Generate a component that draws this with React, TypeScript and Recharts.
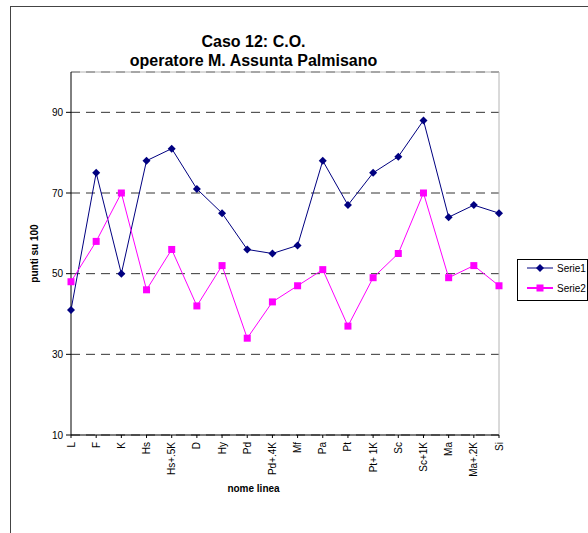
import {
  LineChart,
  Line,
  XAxis,
  YAxis,
  CartesianGrid,
  Legend,
  ReferenceLine,
  Label,
} from "recharts";

const categories = [
  "L", "F", "K", "Hs", "Hs+.5K", "D", "Hy", "Pd", "Pd+.4K",
  "Mf", "Pa", "Pt", "Pt+ 1K", "Sc", "Sc+1K", "Ma", "Ma+.2K", "Si",
];
const serie1 = [41, 75, 50, 78, 81, 71, 65, 56, 55, 57, 78, 67, 75, 79, 88, 64, 67, 65];
const serie2 = [48, 58, 70, 46, 56, 42, 52, 34, 43, 47, 51, 37, 49, 55, 70, 49, 52, 47];
const yTicks = [10, 30, 50, 70, 90];

const data = categories.map((name, i) => ({
  name,
  Serie1: serie1[i],
  Serie2: serie2[i],
}));

const NAVY = "#000080";
const MAGENTA = "#ff00ff";
const font = "'Liberation Sans', Arial, sans-serif";

const Diamond = (props: any) => {
  const { cx, cy, index } = props;
  if (cx == null || cy == null) return null;
  return (
    <polygon
      key={`d-${index}`}
      points={`${cx},${cy - 4} ${cx + 4},${cy} ${cx},${cy + 4} ${cx - 4},${cy}`}
      fill={NAVY}
    />
  );
};

const Square = (props: any) => {
  const { cx, cy, index } = props;
  if (cx == null || cy == null) return null;
  return <rect key={`s-${index}`} x={cx - 3.5} y={cy - 3.5} width={7} height={7} fill={MAGENTA} />;
};

const XTick = ({ x, y, payload }: any) => (
  <text
    x={x}
    y={y}
    dy={3.5}
    transform={`rotate(-90, ${x}, ${y})`}
    textAnchor="end"
    fontSize={10}
    fontFamily={font}
    fill="#000"
  >
    {payload.value}
  </text>
);

const LegendBox = ({ payload }: any) => (
  <div
    style={{
      position: "relative",
      width: 71,
      height: 42,
      boxSizing: "border-box",
      border: "1px solid #000",
      background: "#fff",
      fontFamily: font,
      fontSize: 10,
      color: "#000",
    }}
  >
    {(payload || []).map((entry: any, i: number) => (
      <div
        key={entry.value}
        style={{ position: "absolute", left: 9, top: 2 + i * 20, height: 12, display: "flex", alignItems: "center" }}
      >
        <svg width={28} height={12}>
          <line x1={0} y1={6} x2={26} y2={6} stroke={entry.color} strokeWidth={i === 1 ? 2 : 1} />
          {i === 0 ? (
            <polygon points="13,2 17,6 13,10 9,6" fill={entry.color} />
          ) : (
            <rect x={9.5} y={2.5} width={7} height={7} fill={entry.color} />
          )}
        </svg>
        <span style={{ marginLeft: 2 }}>{entry.value}</span>
      </div>
    ))}
  </div>
);

export default function App() {
  return (
    <div
      style={{
        position: "absolute",
        left: 0,
        top: 0,
        width: 588,
        height: 533,
        overflow: "hidden",
        background: "#fff",
        fontFamily: font,
      }}
    >
      <div
        style={{
          position: "absolute",
          left: 10,
          top: 6,
          width: 700,
          height: 700,
          borderTop: "1px solid #444",
          borderLeft: "1px solid #444",
        }}
      />
      <LineChart
        width={588}
        height={533}
        data={data}
        margin={{ top: 72, right: 89, bottom: 38, left: 31 }}
      >
        <CartesianGrid vertical={false} strokeDasharray="9 6" stroke="#333" />
        <XAxis
          dataKey="name"
          interval={0}
          height={60}
          tickSize={3}
          tickMargin={4}
          tick={<XTick />}
          axisLine={{ stroke: "#000" }}
          tickLine={{ stroke: "#000" }}
        >
          <Label
            content={({ viewBox }: any) => (
              <text
                x={viewBox.x + viewBox.width / 2 - 31.5}
                y={viewBox.y + 57}
                textAnchor="middle"
                fontSize={10}
                fontWeight="bold"
                fontFamily={font}
                fill="#000"
              >
                nome linea
              </text>
            )}
          />
        </XAxis>
        <YAxis
          type="number"
          domain={[10, 100]}
          ticks={yTicks}
          interval={0}
          width={40}
          tickSize={5}
          tickMargin={3}
          tick={{ fontSize: 10, fill: "#000", fontFamily: font }}
          axisLine={{ stroke: "#000" }}
          tickLine={{ stroke: "#000" }}
        >
          <Label
            content={({ viewBox }: any) => {
              const cx = viewBox.x + 7;
              const cy = viewBox.y + viewBox.height / 2;
              return (
                <text
                  x={cx}
                  y={cy}
                  transform={`rotate(-90, ${cx}, ${cy})`}
                  textAnchor="middle"
                  fontSize={10}
                  fontWeight="bold"
                  fontFamily={font}
                  fill="#000"
                >
                  punti su 100
                </text>
              );
            }}
          />
        </YAxis>
        <ReferenceLine y={100} stroke="#b4b4b4" />
        <ReferenceLine x="Si" stroke="#b4b4b4" />
        <Legend
          layout="horizontal"
          verticalAlign="middle"
          align="center"
          content={<LegendBox />}
          wrapperStyle={{ left: 517, top: 259, width: 71, height: 42 }}
        />
        <Line
          dataKey="Serie1"
          stroke={NAVY}
          strokeWidth={1}
          dot={Diamond}
          activeDot={false}
          isAnimationActive={false}
        />
        <Line
          dataKey="Serie2"
          stroke={MAGENTA}
          strokeWidth={1}
          dot={Square}
          activeDot={false}
          isAnimationActive={false}
        />
      </LineChart>
      <div
        style={{
          position: "absolute",
          left: 0,
          top: 32,
          width: 507,
          textAlign: "center",
          fontSize: 16,
          fontWeight: "bold",
          lineHeight: "19px",
          color: "#000",
        }}
      >
        <div>Caso 12: C.O.</div>
        <div>operatore M. Assunta Palmisano</div>
      </div>
    </div>
  );
}
